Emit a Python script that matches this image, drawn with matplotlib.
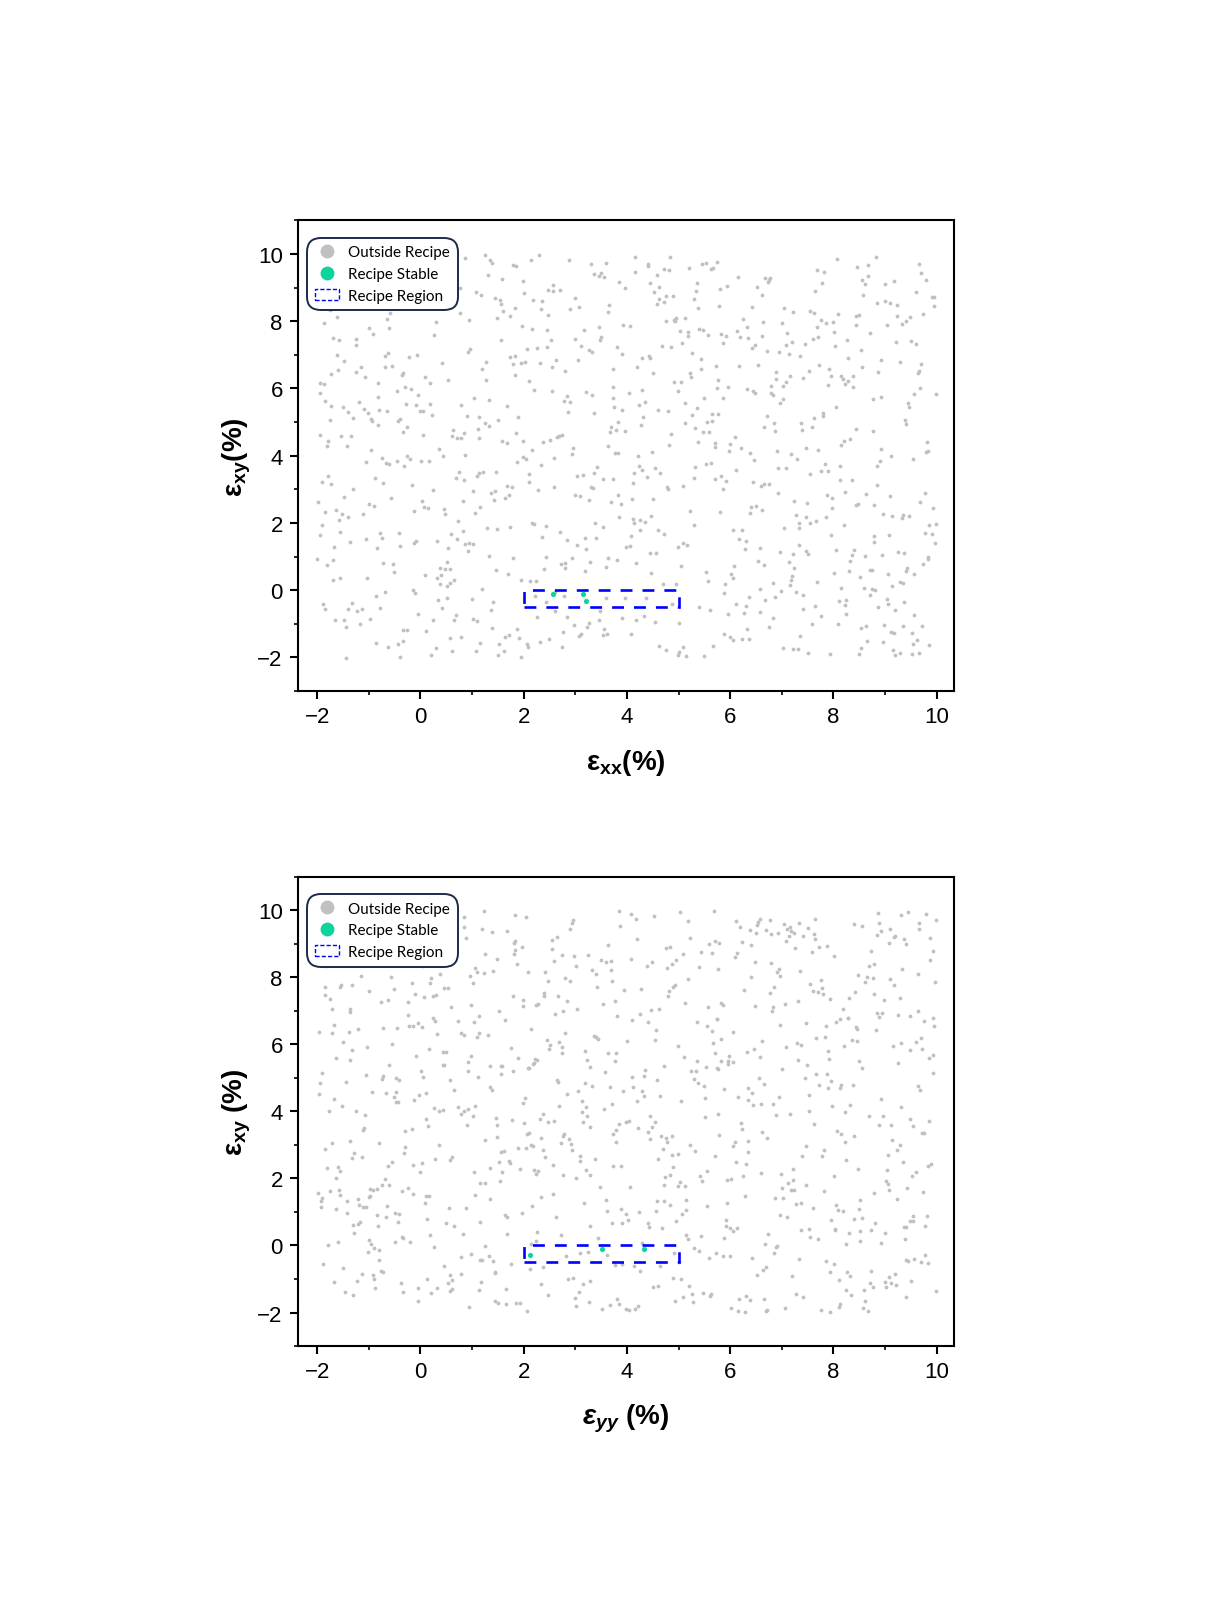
import numpy as np
import matplotlib
matplotlib.use("Agg")
import matplotlib.pyplot as plt
from matplotlib.lines import Line2D
from matplotlib.patches import Rectangle
from matplotlib.ticker import MultipleLocator

# ---- data ----
# top panel: eps_xx vs eps_xy, points outside the recipe
top_gray = [
    (0.86,9.88),(1.26,9.97),(1.35,9.81),(1.38,9.73),(1.30,9.38),(1.58,9.25),(1.79,9.68),(1.86,9.63),
    (1.99,9.21),(2.14,9.83),(2.29,9.97),(2.88,9.81),(3.30,9.70),(3.59,9.73),(3.37,9.41),(3.45,9.36),
    (3.50,9.44),(3.56,9.31),(3.85,9.17),(3.96,8.98),(0.77,9.00),(1.08,8.86),(1.18,8.79),(1.44,8.70),
    (1.55,8.62),(1.57,8.52),(2.01,8.84),(2.18,8.62),(2.36,8.61),(2.56,9.09),(2.48,8.94),(2.57,8.91),
    (2.71,8.94),(3.00,8.68),(3.08,8.42),(2.89,8.36),(3.66,8.49),(3.63,8.29),(2.33,8.37),(1.60,8.32),
    (1.83,8.40),(1.74,8.17),
    (-1.76,8.34),(-1.61,8.14),(-1.87,7.94),(-0.64,8.08),(-0.59,8.25),(-1.00,7.79),(-0.91,7.62),(-0.60,7.80),
    (0.30,7.97),(0.27,7.59),(0.76,8.24),(0.95,8.04),(1.49,8.10),(1.96,7.86),(2.16,7.78),(2.46,7.74),
    (2.47,8.19),(3.16,7.75),(3.45,7.82),(3.50,7.53),(3.48,7.43),(3.92,7.89),(-1.69,7.51),(-1.58,7.43),
    (-1.24,7.46),(-1.25,7.30),(1.56,7.43),(2.06,7.18),(2.25,7.20),(2.45,7.22),(2.53,7.44),(3.00,7.46),
    (3.11,7.26),(3.26,7.14),(3.33,7.08),(3.80,7.23),(3.90,7.03),
    (-1.61,6.99),(-1.48,6.81),(-1.73,6.42),(-1.59,6.56),(-1.16,6.63),(-1.25,6.48),(-1.07,6.33),(-0.68,6.98),
    (-0.63,7.05),(-0.68,6.63),(-0.55,6.66),(-0.23,6.93),(-0.06,7.00),(-0.36,6.41),(-0.33,6.45),(0.08,6.33),
    (0.42,6.75),(0.53,6.25),(0.92,7.08),(0.96,7.16),(1.20,6.58),(1.28,6.78),(1.28,6.25),(1.74,6.93),
    (1.83,6.98),(1.79,6.73),(1.95,6.75),(2.03,6.78),(1.84,6.40),(2.10,6.22),(2.31,6.76),(2.54,6.63),
    (2.63,6.85),(2.81,6.53),(3.05,6.85),(3.73,6.57),(-1.94,6.15),(-1.87,6.13),
    (-1.95,5.88),(-1.85,5.64),(-1.73,5.49),(-1.50,5.44),(-1.41,5.29),(-1.30,5.11),(-1.76,5.05),(-1.19,5.61),
    (-1.09,5.39),(-1.02,5.26),(-0.96,5.08),(-0.93,5.03),(-0.82,4.92),(-0.82,5.76),(-0.83,6.16),(-0.64,5.34),
    (-0.80,5.37),(-0.46,5.92),(-0.30,6.03),(-0.18,5.98),(-0.27,5.53),(-0.09,5.52),(-0.04,5.80),(0.06,5.34),
    (-0.01,5.33),(0.18,5.53),(0.23,5.22),(0.18,6.15),(-0.43,5.04),(-0.40,5.10),(0.78,5.51),(0.90,5.17),
    (1.04,5.72),(1.14,5.14),(1.32,5.66),(1.51,5.06),(1.68,5.49),(1.90,5.16),(2.20,5.96),(2.54,5.94),
    (2.84,5.79),(2.78,5.64),(2.89,5.59),(2.86,5.31),(3.21,5.91),(3.32,5.80),(3.37,5.26),(3.73,6.05),
    (3.73,5.72),(3.75,5.46),(3.90,5.36),(3.82,5.00),
    (-1.95,4.63),(-1.78,4.43),(-1.80,4.30),(-1.53,4.59),(-1.34,4.60),(-1.43,4.30),(-0.33,4.72),(-0.26,4.86),
    (0.06,4.63),(0.64,4.77),(0.62,4.59),(0.71,4.53),(0.79,4.53),(0.85,4.67),(1.12,4.80),(1.14,4.54),
    (1.26,4.97),(1.32,4.89),(1.58,4.45),(1.67,4.37),(1.85,4.69),(1.98,4.45),(2.38,4.40),(2.51,4.48),
    (2.65,4.55),(2.75,4.63),(2.69,4.58),(-0.95,4.17),(-1.05,3.82),(-0.75,3.93),(-0.67,3.77),(-0.60,3.75),
    (-0.46,3.84),(-0.31,3.70),(-0.26,3.99),(-0.20,3.89),(0.01,3.83),(0.17,3.84),(0.36,4.21),(0.44,4.00),
    (0.87,4.03),(1.88,3.80),(1.99,3.95),(2.04,3.89),(2.16,4.18),(2.34,3.72),(2.59,3.94),(2.93,4.05),
    (2.96,4.23),(3.69,4.84),(3.67,4.72),(3.78,4.76),(3.63,4.29),(3.77,4.09),(3.82,4.07),(3.96,4.74),
    (-1.91,3.23),(-1.79,3.40),(-1.73,3.16),(-1.30,3.01),(-0.88,3.35),(-0.72,3.19),(-0.57,2.74),(-1.00,2.56),
    (-0.89,2.50),(-1.48,2.76),(-1.98,2.63),(-1.85,2.33),(-1.64,2.40),(-1.51,2.26),(-1.40,2.18),(-1.57,2.09),
    (-1.11,2.26),(-0.16,3.14),(0.04,2.64),(0.07,2.48),(0.14,2.43),(-0.13,2.36),(0.25,2.98),(0.46,2.42),
    (0.47,2.28),(0.75,3.53),(0.69,3.33),(0.84,3.27),(1.10,3.40),(1.13,3.48),(1.22,3.51),(1.46,3.53),
    (1.01,2.96),(0.83,2.66),(1.16,2.46),(1.06,2.30),(1.36,2.90),(1.44,2.94),(1.42,2.68),(1.67,3.11),
    (1.77,3.06),(1.72,2.84),(1.64,2.74),(2.11,3.45),(2.10,3.22),(2.28,2.98),(2.59,3.06),(3.03,3.40),
    (3.15,3.42),(3.37,3.50),(3.42,3.65),(3.53,3.32),(3.73,3.32),(3.31,3.08),(3.35,3.04),(2.99,2.83),
    (3.10,2.80),(3.26,2.68),(3.69,2.61),(3.88,2.56),(3.82,2.83),
    (-1.90,1.94),(-1.94,1.63),(-1.68,1.29),(-1.55,1.73),(-1.36,1.44),(-0.79,1.70),(-0.74,1.54),(-1.05,1.53),
    (-0.84,1.24),(-0.41,1.70),(-0.39,1.31),(-0.08,1.47),(-0.12,1.41),(0.32,1.47),(0.54,1.25),(0.60,1.67),
    (0.71,1.52),(0.83,1.77),(0.73,2.06),(0.87,1.37),(0.94,1.39),(1.01,1.37),(0.93,1.17),(1.29,1.86),
    (1.48,1.81),(1.74,1.88),(2.17,2.01),(2.20,1.96),(2.43,1.91),(2.36,1.59),(2.71,1.73),(2.84,1.49),
    (3.03,1.34),(3.18,1.54),(3.21,1.22),(3.39,2.01),(3.53,1.88),(3.41,1.55),(3.84,2.18),(-2.01,0.92),
    (-1.81,0.75),(-1.70,0.91),(-0.73,0.82),(-0.54,0.77),(-0.52,0.55),(0.51,0.85),(0.38,0.67),(0.57,0.62),
    (1.33,1.02),(1.47,0.59),(1.80,0.95),(2.43,0.99),(2.39,0.62),(2.73,0.79),(2.80,0.82),(2.81,0.65),
    (2.93,0.95),(3.18,0.57),(3.28,0.83),(3.60,0.69),(3.64,0.95),(3.80,0.89),(3.98,1.27),
    (-1.70,0.29),(-1.55,0.37),(-1.04,0.35),(-0.86,-0.16),(-0.68,-0.06),(0.08,0.45),(-0.14,0.00),(-0.11,-0.07),
    (0.33,0.37),(0.40,0.44),(0.38,0.18),(0.51,0.13),(0.58,0.20),(0.65,0.30),(0.48,0.63),(1.70,0.47),
    (1.94,0.30),(2.12,0.28),(2.24,0.26),(1.20,0.04),(0.99,-0.25),(1.40,-0.35),(0.34,-0.29),(0.52,-0.24),
    (0.42,-0.52),(-1.88,-0.42),(-1.85,-0.55),(-1.41,-0.57),(-1.33,-0.37),(-1.23,-0.62),(-1.14,-0.57),(-0.78,-0.52),
    (2.22,-0.17),(2.43,-0.34),(2.60,-0.06),(2.79,-0.17),(3.60,-0.24),(3.96,-0.22),(1.37,-0.60),(0.69,-0.74),
    (0.65,-0.88),(-0.05,-0.72),(0.24,-0.90),(1.02,-0.87),(1.10,-0.92),(2.26,-0.79),(2.61,-0.62),(2.83,-0.80),
    (3.48,-0.62),(3.46,-0.90),(3.91,-0.82),
    (-1.66,-0.90),(-1.48,-0.90),(-1.44,-1.11),(-1.17,-1.02),(-0.98,-0.85),(-0.34,-1.19),(-0.25,-1.17),(0.10,-1.21),
    (-0.86,-1.56),(-0.63,-1.69),(-0.44,-1.61),(-0.34,-1.51),(-1.45,-2.01),(-0.39,-1.99),(0.20,-1.94),(0.30,-1.73),
    (0.58,-1.41),(0.78,-1.39),(1.16,-1.58),(1.07,-1.81),(1.38,-1.13),(1.53,-1.61),(1.50,-1.93),(1.62,-1.81),
    (1.63,-1.39),(1.72,-1.32),(1.87,-1.15),(1.91,-1.42),(2.06,-1.61),(2.08,-1.68),(1.94,-1.99),(2.31,-1.54),
    (2.49,-1.46),(2.74,-1.69),(2.77,-1.24),(2.98,-1.04),(3.07,-1.36),(3.11,-1.29),(3.23,-1.09),(3.27,-0.97),
    (3.56,-1.16),(3.54,-1.34),(3.62,-1.31),(0.62,-1.80),
    # right half
    (4.15,9.91),(4.83,9.90),(4.15,9.48),(4.40,9.69),(4.41,9.64),(4.59,9.39),(4.72,9.54),(4.81,9.53),
    (4.45,9.15),(4.63,9.03),(4.53,8.87),(4.62,8.65),(4.58,8.52),(4.75,8.75),(4.72,8.57),(4.89,8.75),
    (5.20,9.58),(5.35,9.13),(5.34,8.91),(5.30,8.65),(5.38,8.40),(5.46,9.71),(5.54,9.74),(5.62,9.56),
    (5.67,9.59),(5.74,9.76),(5.80,8.96),(5.94,9.06),(5.79,8.46),(6.16,9.33),(6.52,9.01),(6.62,8.77),
    (6.68,9.29),(6.75,9.23),(6.78,9.28),(6.74,9.18),(6.42,8.41),(7.05,8.38),(7.21,8.27),(7.55,8.32),
    (7.63,8.26),(7.68,9.53),(7.81,9.48),(7.78,9.14),(7.65,8.89),(8.06,9.86),(8.08,8.22),(8.46,9.62),
    (8.67,9.67),(8.66,9.36),(8.56,9.23),(8.61,9.11),(8.58,8.77),(8.83,9.91),(9.00,9.11),(9.17,9.21),
    (8.85,8.54),(8.99,8.61),(9.10,8.55),(9.23,8.48),(9.66,9.70),(9.70,9.43),(9.79,9.23),(9.60,8.88),
    (9.90,8.71),(9.94,8.72),(9.95,8.44),(9.74,8.23),
    (4.06,7.85),(4.76,8.00),(4.91,8.05),(4.96,8.09),(4.94,8.02),(5.12,8.10),(5.03,7.72),(5.19,7.67),
    (5.18,7.55),(5.06,7.35),(5.40,7.76),(5.47,7.75),(5.57,7.59),(5.83,7.62),(5.92,7.57),(5.86,7.35),
    (6.13,7.70),(6.25,8.07),(6.33,7.82),(6.19,7.52),(6.35,7.50),(6.43,7.19),(6.49,7.29),(6.61,7.57),
    (6.63,7.99),(6.72,7.13),(6.94,7.10),(7.00,7.94),(7.11,7.65),(7.09,7.28),(7.19,7.38),(7.13,7.03),
    (7.36,6.98),(7.44,7.31),(7.60,7.47),(7.70,7.52),(7.69,7.84),(7.76,8.04),(7.86,7.95),(7.99,7.97),
    (8.02,7.67),(8.03,7.25),(8.27,7.45),(8.29,6.91),(8.53,7.15),(8.44,8.17),(8.50,8.18),(8.44,7.89),
    (8.71,7.64),(9.03,7.88),(9.23,8.16),(9.32,7.91),(9.41,8.02),(9.48,8.13),(9.21,7.37),(9.50,7.41),
    (9.59,7.33),(4.67,7.25),(4.85,7.23),(4.42,6.98),(4.44,6.92),(4.30,6.90),(5.27,7.05),(5.43,6.89),
    (4.20,6.65),(4.51,6.46),(5.23,6.45),(5.25,6.33),(5.43,6.59),(5.72,6.68),(6.18,6.67),(6.54,6.69),
    (6.88,6.48),(6.89,6.28),(7.15,6.36),(7.09,6.18),(7.02,6.08),(6.80,6.07),(6.80,5.86),(6.82,5.82),
    (6.97,5.56),(7.02,5.68),(6.48,5.87),(6.44,5.94),(6.32,5.99),(5.86,5.72),(5.95,6.03),(5.75,6.01),
    (5.77,6.26),(5.50,5.72),(5.13,5.56),(4.92,6.18),(4.99,5.93),(5.05,6.20),(4.29,5.96),(4.04,5.87),
    (4.24,5.51),(4.36,5.59),(4.61,5.36),(4.80,5.32),(7.53,6.53),(7.42,6.30),(7.72,6.71),(7.91,6.58),
    (7.95,6.36),(7.89,6.10),(8.15,6.38),(8.18,6.27),(8.29,6.21),(8.22,6.13),(8.38,6.38),(8.38,6.03),
    (8.56,6.63),(8.87,6.49),(8.92,6.86),(9.29,6.80),(9.70,6.73),(9.66,6.53),(9.64,6.45),(9.68,6.02),
    (9.57,5.84),(9.99,5.84),(8.92,5.76),(8.76,5.68),(9.44,5.57),(9.46,5.44),(8.05,5.44),
    (4.32,5.15),(4.27,4.90),(4.85,4.65),(4.82,4.33),(5.12,4.97),(5.26,5.21),(5.36,5.41),(5.32,4.81),
    (5.48,4.71),(5.59,4.70),(5.56,4.99),(5.65,5.04),(5.64,5.24),(5.76,5.25),(5.38,4.41),(5.71,4.38),
    (5.70,4.25),(6.00,4.35),(6.09,4.55),(5.97,4.13),(6.21,4.22),(6.39,4.07),(6.47,3.88),(6.71,5.19),
    (6.65,4.84),(6.84,4.96),(6.86,4.74),(6.90,4.15),(7.17,4.04),(7.30,3.90),(7.38,4.97),(7.39,4.77),
    (7.58,4.85),(7.62,5.13),(7.79,5.28),(7.80,5.19),(7.46,4.24),(7.71,4.17),(8.15,4.33),(8.20,4.44),
    (8.32,4.51),(8.43,4.79),(8.76,4.75),(8.92,4.21),(9.12,3.99),(8.91,3.85),(8.84,3.70),(9.39,5.07),
    (9.41,4.94),(9.81,4.42),(9.83,4.14),(9.79,4.10),(9.54,3.91),(4.49,4.12),
    (4.21,4.00),(4.24,3.69),(4.30,3.58),(4.38,3.36),(4.14,3.50),(4.11,3.20),(4.54,3.63),(4.65,3.49),
    (4.78,3.06),(4.80,3.00),(5.08,3.09),(5.32,3.65),(5.53,3.74),(5.63,3.77),(5.30,3.34),(5.70,3.30),
    (5.83,3.39),(5.92,3.26),(5.86,3.01),(6.12,3.57),(6.45,3.22),(6.59,3.11),(6.66,3.15),(6.75,3.17),
    (6.92,3.62),(7.08,3.64),(6.92,2.90),(7.54,3.46),(7.75,3.55),(7.84,3.74),(7.90,3.56),(8.13,3.68),
    (8.12,3.28),(8.36,3.28),(8.23,2.92),(7.87,2.84),(7.98,2.74),(7.24,2.65),(7.49,2.58),(7.97,2.45),
    (8.43,2.52),(8.47,2.57),(8.63,2.87),(8.78,2.54),(8.85,3.13),(9.10,2.80),(9.77,2.89),(9.68,2.62),
    (9.92,2.44),(4.09,2.72),(4.51,2.70),(5.23,2.36),(5.81,2.34),(6.41,2.46),(6.50,2.50),(6.61,2.38),
    (6.39,2.31),
    (4.12,2.13),(4.14,2.00),(4.25,2.09),(4.35,2.04),(4.46,2.21),(4.26,1.78),(4.60,1.79),(4.71,1.68),
    (4.07,1.62),(4.06,1.30),(4.44,1.11),(4.56,1.12),(4.98,1.27),(5.09,1.39),(5.16,1.33),(5.29,1.93),
    (6.05,1.80),(6.23,1.80),(6.17,1.52),(6.30,1.47),(6.28,1.22),(6.57,1.25),(6.96,1.15),(7.04,1.86),
    (7.28,2.24),(7.33,2.00),(7.34,1.84),(7.47,2.18),(7.54,2.01),(7.67,2.07),(7.85,2.18),(7.33,1.35),
    (7.46,1.17),(7.51,1.07),(7.22,1.07),(7.96,1.63),(8.05,1.21),(8.20,1.93),(8.40,1.20),(8.36,1.06),
    (8.79,1.61),(8.79,1.43),(8.96,2.27),(9.14,2.20),(9.33,2.14),(9.35,2.23),(9.47,2.21),(9.07,1.64),
    (8.94,1.06),(9.25,1.14),(9.37,1.12),(9.77,1.70),(9.90,1.68),(9.86,1.95),(9.98,1.97),(9.97,1.39),
    (4.17,0.81),(4.47,0.51),(5.04,0.71),(5.54,0.53),(5.57,0.27),(6.02,0.47),(6.06,0.37),(6.08,0.71),
    (6.53,0.88),(6.66,0.74),(7.13,0.84),(7.24,0.67),(7.20,0.43),(7.18,0.31),(7.15,0.14),(7.27,-0.04),
    (7.41,-0.14),(6.99,-0.02),(6.82,0.21),(6.58,0.03),(5.90,0.18),(5.89,-0.08),(6.36,-0.20),(6.12,-0.40),
    (6.31,-0.47),(6.68,-0.30),(6.86,-0.20),(7.68,0.24),(8.01,0.52),(8.14,0.06),(8.32,0.87),(8.31,0.56),
    (8.51,0.39),(8.61,1.01),(8.70,0.59),(8.75,0.59),(8.59,0.06),(8.74,0.04),(8.81,0.02),(8.70,-0.14),
    (9.06,0.47),(9.14,0.13),(9.28,0.25),(9.34,0.22),(9.41,0.57),(9.43,0.67),(9.56,0.49),(9.74,0.79),
    (9.84,1.00),(9.84,0.94),(8.10,-0.32),(8.25,-0.30),(8.22,-0.44),(9.03,-0.26),(9.05,-0.42),(9.37,-0.35),
    (4.37,-0.23),(4.69,0.18),(4.96,0.19),(4.87,-0.42),
    (5.40,-0.50),(5.61,-0.59),(5.96,-0.71),(6.26,-0.68),(6.57,-0.64),(6.83,-0.83),(7.42,-0.55),(7.64,-0.47),
    (7.76,-0.77),(7.58,-1.00),(8.09,-1.02),(8.25,-0.70),(8.87,-0.50),(9.20,-0.60),(9.56,-0.73),(4.18,-0.88),
    (4.33,-0.78),(4.54,-0.95),(5.00,-0.97),(4.07,-1.31),(4.63,-1.65),(4.76,-1.77),(5.00,-1.84),(4.98,-1.94),
    (5.08,-1.68),(5.15,-1.96),(5.50,-1.96),(5.67,-1.65),(5.88,-1.29),(5.99,-1.40),(6.06,-1.48),(6.22,-1.45),
    (6.32,-1.16),(6.37,-1.44),(6.76,-1.10),(7.03,-1.71),(7.21,-1.75),(7.31,-1.74),(7.36,-1.36),(7.50,-1.86),
    (7.94,-1.90),(8.50,-1.91),(8.54,-1.72),(8.65,-1.52),(8.54,-1.12),(8.63,-1.07),(8.96,-1.55),(8.98,-1.05),
    (9.11,-1.24),(9.17,-1.26),(9.34,-1.06),(9.52,-1.27),(9.54,-1.61),(9.62,-1.48),(9.72,-1.06),(9.85,-1.64),
    (9.65,-1.87),(9.52,-1.89),(9.28,-1.86),(9.19,-1.93),(9.16,-1.77),
]
top_green = [(2.57,-0.10),(3.14,-0.11),(3.21,-0.31)]

# bottom panel: eps_yy vs eps_xy
bot_gray = [
    (0.84,9.79),(0.84,9.51),(0.89,9.16),(1.23,9.97),(1.20,9.45),(1.38,9.36),(1.68,9.39),(1.84,9.85),
    (2.04,9.79),(1.84,9.09),(1.82,9.01),(1.97,8.89),(1.83,8.80),(1.81,8.68),(1.88,8.38),(1.26,8.69),
    (1.49,8.55),(2.54,9.11),(2.64,9.21),(2.54,8.84),(2.75,8.65),(2.97,8.62),(3.24,8.66),(2.90,9.44),
    (2.93,9.61),(2.95,9.71),(3.84,9.97),(3.87,9.53),(3.63,8.96),(3.50,8.52),(3.59,8.45),(3.69,8.47),
    (3.70,8.20),(3.32,8.20),(3.40,8.10),(3.01,8.32),(2.58,8.47),(2.41,8.14),(2.09,8.15),(1.06,8.27),
    (1.10,8.15),(1.23,8.12),(1.40,8.17),(0.96,8.04),(1.01,7.82),
    (-1.82,8.32),(-1.16,8.04),(-0.57,8.01),(-0.29,8.37),(0.05,8.32),(0.38,8.11),(0.21,7.99),(0.18,7.84),
    (-1.84,7.72),(-1.85,7.47),(-1.75,7.36),(-1.53,7.77),(-1.56,7.72),(-1.32,7.77),(-1.00,7.59),(-0.51,7.64),
    (-0.17,7.84),(-0.10,7.51),(0.07,7.40),(0.25,7.45),(0.30,7.48),(0.46,7.67),(0.53,7.67),(-1.71,7.05),
    (-1.37,7.05),(-1.37,6.95),(-0.77,7.25),(-0.63,7.31),(-0.24,7.25),(0.60,7.11),(0.98,7.18),(1.13,6.85),
    (1.52,7.00),(1.63,6.71),(1.79,7.45),(1.98,7.15),(1.99,7.33),(2.23,7.18),(2.27,7.21),(2.39,7.45),
    (2.40,7.52),(2.48,7.89),(2.81,7.97),(2.90,7.89),(2.66,7.45),(2.83,7.30),(2.60,6.90),(2.77,7.00),
    (3.04,7.04),(3.42,7.70),(3.71,7.90),(3.53,7.20),(3.77,7.28),(3.94,7.62),(3.80,6.83),
    (-1.96,6.36),(-1.67,6.58),(-1.71,6.33),(-1.39,6.38),(-1.20,6.45),(-1.50,6.08),(-1.32,5.84),(-1.03,5.93),
    (-1.64,5.59),(-1.37,5.54),(-0.72,6.48),(-0.45,6.48),(-0.55,6.01),(-0.24,6.88),(-0.22,6.53),(-0.15,6.53),
    (-0.04,6.62),(0.04,6.50),(-0.09,5.66),(0.16,5.86),(0.25,6.78),(0.28,6.68),(0.33,6.31),(0.72,6.70),
    (0.78,6.35),(0.85,6.28),(1.13,6.33),(1.10,6.23),(1.31,6.27),(1.03,6.66),(0.44,5.76),(0.49,5.78),
    (0.44,5.39),(0.92,5.46),(0.98,5.64),(1.34,5.36),(1.57,5.36),(1.75,5.89),(1.90,5.59),(2.14,6.45),
    (2.22,5.56),(2.18,5.42),(2.11,5.29),(2.45,6.13),(2.51,5.99),(2.50,5.86),(2.69,6.06),(2.75,5.92),
    (2.74,5.74),(2.80,6.33),(3.19,5.79),(3.22,5.54),(3.28,5.32),(3.64,5.74),(3.78,5.74),(3.41,6.21),
    (3.44,6.15),(3.37,6.25),(3.77,5.49),
    (-1.91,5.14),(-1.94,4.84),(-1.96,4.53),(-1.68,4.37),(-1.52,4.15),(-1.77,4.00),(-1.44,4.86),(-1.05,5.08),
    (-0.73,5.04),(-0.75,4.96),(-0.93,4.57),(-0.66,4.55),(-0.60,5.37),(-0.47,4.98),(-0.41,4.92),(-0.48,4.58),
    (-0.52,4.42),(-0.47,4.27),(-0.43,4.27),(-0.13,4.35),(-0.02,4.48),(0.10,4.55),(0.01,5.21),(0.05,5.01),
    (0.45,5.39),(0.58,4.92),(0.66,4.64),(0.26,4.10),(0.37,4.02),(0.43,4.05),(0.73,4.12),(0.78,3.93),
    (0.84,4.00),(0.93,4.08),(1.06,4.15),(1.01,3.85),(0.90,3.58),(0.92,5.21),(1.11,5.02),(1.34,4.74),
    (1.39,4.64),(1.58,5.34),(1.57,5.12),(1.80,5.19),(2.02,4.40),(1.99,4.25),(2.09,5.29),(2.20,5.44),
    (2.25,5.54),(2.64,4.94),(2.67,4.87),(2.84,4.52),(2.69,4.17),(3.05,4.60),(3.18,4.84),(3.32,4.76),
    (3.57,5.16),(3.68,4.72),(3.13,4.30),(3.20,4.13),(3.72,4.21),(3.56,4.08),(3.92,4.62),
    (-1.25,4.02),(-1.08,3.90),(-1.09,3.50),(-1.12,3.43),(0.10,3.78),(0.14,3.55),(1.47,3.80),(1.48,3.60),
    (1.77,3.75),(2.01,3.65),(2.38,3.93),(2.31,3.78),(2.48,3.67),(2.59,3.72),(3.13,3.98),(3.22,3.85),
    (3.14,3.67),(3.28,3.53),(3.74,3.32),(3.78,3.45),(3.84,3.62),(3.98,3.68),(-0.81,3.05),(-1.36,3.13),
    (-1.72,3.05),(-1.85,2.89),(-1.28,2.76),(-1.32,2.61),(-1.14,2.63),(-0.29,3.41),(-0.16,3.48),(-0.29,2.94),
    (-0.32,2.76),(0.37,2.99),(0.29,2.58),(0.62,2.65),(0.57,2.54),(1.26,3.14),(1.49,3.23),(1.56,2.78),
    (1.62,2.81),(1.90,2.91),(2.05,2.90),(2.15,3.01),(2.18,2.96),(2.06,3.32),(2.11,3.35),(2.33,3.19),
    (2.38,2.84),(2.41,2.63),(2.72,3.06),(2.79,3.32),(2.77,3.25),(2.88,3.18),(2.91,3.03),(2.94,2.84),
    (3.09,2.66),(3.10,2.53),(3.39,2.57),(3.78,3.08),(3.73,2.38),(3.89,2.37),
    (-1.80,2.31),(-1.60,2.33),(-1.55,2.21),(-1.63,2.01),(-0.55,2.48),(-0.63,2.38),(-0.15,2.41),(0.04,2.46),
    (0.00,2.18),(-0.69,1.98),(-0.60,1.81),(-0.97,1.69),(-0.85,1.67),(-0.91,1.65),(-0.75,1.81),(-1.98,1.57),
    (-1.91,1.42),(-1.92,1.32),(-1.92,1.15),(-1.76,1.62),(-1.57,1.65),(-1.56,1.50),(-1.42,1.32),(-1.21,1.39),
    (-1.19,1.22),(-1.11,1.15),(-1.05,1.15),(-1.64,1.09),(-1.43,0.97),(-0.84,0.92),(-0.65,1.19),(-0.66,0.85),
    (-0.41,0.95),(-0.43,0.70),(-0.50,0.97),(-0.99,1.44),(-0.97,1.49),(-0.36,1.62),(-0.24,1.72),(-0.15,1.52),
    (0.10,1.47),(0.16,1.49),(0.09,1.27),(0.56,1.13),(0.88,1.12),(1.05,1.50),(1.15,1.86),(1.26,1.85),
    (1.35,1.39),(1.04,2.20),(1.34,2.31),(1.55,1.91),(1.59,2.18),(1.74,2.46),(1.52,2.49),(1.72,2.52),
    (1.93,2.28),(2.20,2.26),(2.23,2.13),(2.28,2.23),(2.56,2.40),(2.76,2.09),(3.02,2.01),(3.20,2.26),
    (3.29,2.11),(2.34,1.44),(2.57,1.54),(3.48,1.74),(3.59,1.35),(3.16,1.27),(3.62,1.02),(3.88,1.09),
    (2.16,1.17),(1.97,0.97),(1.63,0.90),(1.68,0.85),(2.62,0.85),(1.16,0.69),
    (-1.31,0.62),(-1.20,0.65),(-1.17,0.71),(-1.29,0.37),(-0.82,0.59),(0.50,0.67),(0.66,0.59),(0.12,0.79),
    (-0.36,0.25),(-0.34,0.22),(-0.21,0.11),(-0.50,0.11),(0.19,0.30),(0.26,-0.04),(0.83,0.33),(1.67,0.33),
    (2.25,0.39),(2.73,0.32),(3.29,0.57),(3.44,0.23),(3.72,0.67),(3.91,0.66),(3.98,0.95),(-1.79,0.02),
    (-1.60,0.10),(-1.00,0.15),(-1.01,-0.19),(-0.96,0.03),(-0.90,-0.07),(-0.80,-0.14),(-0.80,-0.42),(-1.89,-0.56),
    (-1.50,-0.68),(0.78,-0.33),(0.46,-0.60),(0.98,-0.24),(1.26,-0.02),(1.15,-0.42),(1.20,-0.44),(1.33,-0.32),
    (1.40,-0.45),(1.76,-0.54),(2.23,0.12),(2.15,0.05),(2.37,-0.65),(2.82,-0.32),(3.10,-0.22),(3.24,-0.20),
    (3.62,-0.27),(3.91,-0.55),(3.77,-0.58),
    (-1.14,-0.84),(-0.91,-0.87),(-0.90,-1.00),(-0.77,-0.75),(-0.73,-0.80),(-1.68,-1.09),(-1.23,-1.06),(-0.87,-1.26),
    (-1.46,-1.39),(-1.30,-1.49),(-0.38,-1.13),(-0.34,-1.38),(-0.04,-1.27),(0.12,-0.99),(0.21,-1.41),(0.33,-1.28),
    (0.57,-0.89),(0.62,-1.03),(0.53,-1.13),(0.58,-1.35),(0.62,-1.29),(0.78,-0.86),(1.13,-1.32),(1.18,-1.08),
    (1.44,-0.79),(1.45,-0.83),(1.65,-1.31),(1.45,-1.67),(1.51,-1.71),(1.65,-1.76),(1.86,-1.71),(1.92,-1.73),
    (2.06,-1.96),(0.94,-1.83),(-0.05,-1.66),(2.13,-0.70),(2.34,-1.14),(2.47,-1.47),(2.86,-1.00),(2.95,-0.97),
    (3.14,-1.16),(3.28,-1.05),(3.07,-1.39),(3.00,-1.58),(3.26,-1.68),(3.02,-1.80),(3.51,-1.89),(3.67,-1.79),
    (3.80,-1.61),(3.85,-1.74),(3.98,-1.89),
    # right half
    (4.08,9.88),(4.17,9.73),(4.52,9.83),(5.02,9.93),(5.18,9.68),(5.68,9.98),(4.20,9.15),(5.22,9.16),
    (4.76,8.87),(4.84,8.89),(5.08,8.70),(4.96,8.50),(4.87,8.40),(4.77,8.27),(4.48,8.44),(4.38,8.34),
    (4.08,8.54),(5.43,8.76),(5.59,8.98),(5.71,9.08),(5.79,9.01),(5.65,8.71),(5.39,8.29),(5.76,8.23),
    (6.11,9.68),(6.19,9.49),(6.22,9.04),(6.41,8.95),(6.09,8.59),(6.14,8.73),(6.38,9.41),(6.50,9.31),
    (6.53,9.64),(6.57,9.73),(6.52,9.56),(6.69,9.41),(6.78,9.70),(6.79,9.29),(6.92,9.31),(7.04,9.58),
    (7.11,9.44),(7.15,9.51),(7.18,9.38),(7.23,9.33),(7.14,9.23),(7.08,9.08),(7.26,8.87),(7.34,9.63),
    (7.42,9.24),(7.50,9.48),(7.63,9.29),(7.65,9.74),(7.65,9.13),(7.72,8.90),(7.87,8.93),(7.58,8.74),
    (8.01,8.64),(6.48,8.46),(6.79,8.42),(6.90,8.14),(6.94,8.24),(6.96,8.04),(7.35,8.17),(8.40,9.58),
    (8.56,9.54),(8.87,9.91),(8.89,9.61),(8.92,9.38),(8.84,9.25),(8.73,8.77),(8.79,8.40),(8.69,8.34),
    (9.10,9.45),(9.19,9.23),(9.17,9.20),(9.36,9.15),(9.40,9.00),(9.07,9.01),(9.31,9.85),(9.44,9.94),
    (9.80,9.89),(9.98,9.70),(9.66,9.61),(9.65,9.43),(9.88,9.18),(9.92,8.79),(9.88,8.51),(9.32,8.25),
    (9.63,8.09),(8.47,8.07),(8.61,7.87),(8.65,8.00),(8.76,7.98),(9.09,7.95),(9.17,7.77),(9.97,7.87),
    (4.27,7.66),(4.79,7.45),(4.81,7.60),(4.89,7.72),(4.93,7.77),(5.18,7.96),(6.26,7.62),(6.41,8.02),
    (6.84,7.71),(6.77,7.53),(6.81,6.99),(6.82,7.12),(6.48,7.15),(7.07,7.21),(7.31,7.28),(7.55,7.80),
    (7.60,7.58),(7.71,7.56),(7.80,7.51),(7.78,7.67),(7.76,7.92),(7.94,7.34),(8.18,7.06),(8.29,6.79),
    (8.42,7.55),(8.31,7.37),(8.78,7.49),(8.98,7.31),(9.28,7.37),(4.09,6.71),(4.25,6.91),(4.40,6.66),
    (4.46,7.01),(4.63,7.04),(5.12,7.24),(5.58,7.10),(5.83,7.23),(5.86,7.18),(5.74,6.76),(8.85,6.93),
    (8.94,6.94),(8.88,6.81),(9.25,6.86),(9.48,6.85),(9.63,6.98),(9.75,6.68),(9.93,6.78),(9.95,6.55),
    (4.57,6.43),(4.54,6.13),(4.01,6.11),(4.99,5.96),(5.10,5.62),(5.36,6.65),(5.56,6.54),(5.65,6.40),
    (5.75,6.75),(6.05,6.38),(5.83,6.15),(5.67,6.03),(5.70,5.74),(5.54,5.32),(5.36,5.51),(5.25,5.20),
    (5.34,5.20),(5.29,4.96),(5.38,4.85),(5.50,4.76),(4.71,5.36),(4.35,5.22),(4.33,5.06),(4.58,4.94),
    (4.09,5.01),(4.11,4.73),(4.29,4.60),(4.33,4.47),(4.20,4.32),(4.65,4.45),(5.83,5.49),(5.97,5.64),
    (5.96,5.51),(5.95,5.41),(6.05,5.47),(5.74,5.28),(5.77,5.26),(6.33,5.76),(6.46,5.86),(6.57,5.62),
    (6.62,6.09),(6.97,6.56),(7.08,5.91),(7.29,6.05),(7.38,5.97),(7.32,5.54),(7.49,5.38),(7.01,5.26),
    (7.47,6.63),(7.67,6.18),(7.83,6.23),(7.86,6.53),(7.89,5.81),(7.91,5.57),(8.05,6.67),(8.13,6.75),
    (8.29,6.79),(8.20,5.94),(8.36,6.13),(8.45,6.11),(8.43,6.51),(8.46,6.45),(8.49,5.49),(8.56,5.30),
    (8.82,6.42),(9.16,5.96),(9.31,6.05),(9.26,5.44),(9.49,5.83),(9.59,6.06),(9.70,6.19),(9.72,5.87),
    (9.85,5.59),(9.92,5.67),(9.93,5.15),(9.64,4.76),(9.68,4.63),
    (7.44,4.98),(7.67,5.11),(7.87,5.11),(7.73,4.80),(7.96,4.91),(7.89,4.71),(8.14,4.79),(8.13,4.71),
    (8.38,4.79),(7.52,4.50),(7.98,4.15),(8.22,3.98),(8.32,4.19),(6.55,4.99),(6.66,4.82),(6.34,4.69),
    (6.43,4.54),(6.35,4.33),(6.45,4.19),(6.59,4.22),(6.82,4.23),(6.95,4.42),(6.88,3.90),(7.15,3.93),
    (7.53,4.02),(5.89,4.66),(6.16,4.43),(5.52,4.40),(5.05,4.31),(5.51,3.83),(5.76,3.92),(4.04,3.70),
    (4.22,3.50),(4.44,3.87),(4.55,3.68),(4.49,3.53),(4.41,3.37),(4.45,3.17),(4.66,3.25),(4.75,3.21),
    (4.87,3.25),(4.77,3.09),(4.70,2.89),(4.60,2.58),(4.87,2.71),(4.99,2.73),(4.89,2.34),(8.92,4.38),
    (9.30,4.13),(8.69,3.85),(8.89,3.59),(8.96,3.87),(9.12,3.60),(9.48,3.78),(9.55,3.55),(9.85,3.72),
    (9.71,3.34),(9.76,3.34),
    (6.21,3.65),(6.23,3.48),(5.79,3.28),(5.23,2.99),(5.32,2.83),(5.70,2.66),(6.09,3.09),(6.05,2.96),
    (6.35,3.12),(6.35,2.78),(6.12,2.49),(6.30,2.44),(6.61,3.38),(6.72,3.20),(7.62,3.63),(7.46,2.97),
    (7.40,2.68),(7.82,2.86),(7.78,2.68),(8.07,3.41),(8.15,3.31),(8.22,3.10),(8.39,3.26),(8.25,2.55),
    (8.47,2.29),(9.14,3.16),(9.28,3.01),(9.23,2.86),(9.05,2.70),(9.34,2.48),(9.03,2.26),(9.59,2.19),
    (9.53,2.06),(9.83,2.36),(9.89,2.42),(8.02,2.07),(7.82,1.63),(7.46,1.79),(7.22,2.28),(6.99,2.14),
    (7.12,1.86),(7.21,1.96),(7.00,1.72),(7.18,1.65),(7.24,1.65),(6.59,2.17),(6.25,2.08),(5.93,1.96),
    (6.02,1.98),(5.56,2.21),(5.42,2.06),(5.46,1.92),(4.83,2.11),(4.74,2.03),(5.02,1.90),(4.98,1.78),
    (5.12,1.77),(4.72,1.80),(4.06,1.75),(4.24,1.00),(4.58,1.34),(4.71,1.32),(4.56,1.03),(4.84,1.22),
    (5.14,1.35),(5.15,1.05),(5.07,0.94),(4.96,0.72),(5.55,1.17),(5.94,1.26),(6.28,1.47),(6.87,1.43),
    (7.03,1.41),(6.97,0.90),(7.11,0.84),(7.28,1.25),(7.38,1.27),(7.60,1.11),(8.05,1.20),(8.09,1.05),
    (8.18,1.02),(8.51,1.37),(8.50,1.09),(8.79,1.55),(9.07,1.65),(9.01,1.91),(9.06,1.83),(9.43,1.72),
    (9.23,1.39),(9.74,1.60),(8.40,0.80),(8.56,0.82),(7.96,0.75),(8.04,0.48),(8.31,0.38),(8.52,0.42),
    (8.72,0.47),(8.81,0.67),(9.00,0.38),(9.55,0.87),(9.48,0.72),(9.54,0.72),(9.41,0.56),(9.36,0.55),
    (9.78,0.57),(9.81,0.89),(9.39,0.18),
    (4.03,0.77),(4.40,0.67),(4.43,0.54),(4.68,0.53),(5.15,0.30),(5.19,0.18),(5.44,0.28),(5.29,-0.07),
    (5.39,-0.16),(5.59,-0.36),(5.72,-0.22),(5.86,-0.30),(5.99,-0.30),(5.92,0.77),(5.91,0.59),(6.00,0.52),
    (6.06,0.44),(6.13,0.52),(5.88,0.23),(6.42,-0.37),(6.67,0.05),(6.74,0.34),(6.85,-0.21),(6.89,-0.05),
    (6.91,-0.02),(7.33,-0.39),(7.37,0.45),(7.53,0.50),(7.55,0.26),(7.70,0.20),(8.04,0.46),(8.25,0.04),
    (8.52,0.14),(8.92,0.06),(9.41,-0.42),(9.45,-0.45),(9.56,-0.40),(9.69,-0.49),(9.77,-0.27),(9.83,-0.51),
    (4.29,0.08),(4.92,-0.23),(5.00,-0.50),(4.14,-0.60),(4.25,-0.75),(4.65,-0.62),
    (4.89,-0.96),(5.05,-1.01),(5.20,-1.22),(5.26,-1.44),(5.28,-1.69),(5.48,-1.42),(5.63,-1.46),(5.61,-1.51),
    (4.94,-1.65),(5.08,-1.55),(4.50,-1.23),(4.61,-1.20),(4.04,-1.91),(4.16,-1.88),(4.22,-1.81),(6.02,-1.87),
    (6.16,-1.95),(6.28,-1.99),(6.17,-1.59),(6.30,-1.51),(6.39,-1.63),(6.65,-1.59),(6.52,-0.88),(6.63,-0.73),
    (6.70,-0.63),(6.70,-1.94),(6.71,-1.91),(7.06,-1.87),(7.20,-0.92),(7.27,-1.44),(7.41,-1.54),(7.75,-1.92),
    (7.94,-1.97),(8.10,-1.84),(8.13,-1.76),(7.85,-0.45),(8.01,-0.54),(7.93,-0.80),(8.11,-1.04),(8.27,-0.78),
    (8.33,-0.90),(8.24,-1.34),(8.34,-1.47),(8.60,-1.33),(8.61,-1.67),(8.58,-1.85),(8.67,-1.94),(8.72,-0.77),
    (8.70,-1.12),(8.76,-1.24),(8.99,-1.10),(9.02,-1.25),(9.08,-0.94),(9.12,-1.13),(9.20,-0.85),(9.21,-1.17),
    (9.50,-1.06),(9.41,-1.55),(9.99,-1.37),
]
bot_green = [(2.13,-0.28),(3.52,-0.11),(4.33,-0.10)]

recipe_x = (2.0, 5.0)
recipe_y = (-0.5, 0.0)

panels = [
    dict(gray=top_gray, green=top_green,
         xlabel=r"ε$_{\mathbf{xx}}$(%)", ylabel=r"ε$_{\mathbf{xy}}$(%)"),
    dict(gray=bot_gray, green=bot_green,
         xlabel=r"$\mathit{\varepsilon_{yy}}$ (%)", ylabel=r"ε$_{\mathbf{xy}}$ (%)"),
]

plt.rcParams["font.family"] = ["Liberation Sans", "DejaVu Sans"]
plt.rcParams["mathtext.fontset"] = "custom"
plt.rcParams["mathtext.rm"] = "Liberation Sans"
plt.rcParams["mathtext.bf"] = "Liberation Sans:bold"
plt.rcParams["mathtext.it"] = "Liberation Sans:bold:italic"

GRAY = "#c0c0c0"
GREEN = "#0fd39c"
BLUE = "#0000ff"

fig = plt.figure(figsize=(12.12, 16.15), dpi=100)
rects = [[0.2459, 0.5715, 0.541, 0.2914], [0.2459, 0.1659, 0.541, 0.2907]]

for rect, p in zip(rects, panels):
    ax = fig.add_axes(rect)
    g = np.array(p["gray"])
    gr = np.array(p["green"])
    ax.scatter(g[:, 0], g[:, 1], s=7.5, color=GRAY, linewidths=0, zorder=2)
    ax.scatter(gr[:, 0], gr[:, 1], s=14, color=GREEN, linewidths=0, zorder=4)
    ax.add_patch(Rectangle((recipe_x[0], recipe_y[0]), recipe_x[1] - recipe_x[0],
                           recipe_y[1] - recipe_y[0], fill=False, edgecolor=BLUE,
                           lw=1.9, linestyle=(0, (4.5, 3.8)), zorder=3))
    ax.set_xlim(-2.37, 10.33)
    ax.set_ylim(-3, 11)
    ax.xaxis.set_major_locator(MultipleLocator(2))
    ax.xaxis.set_minor_locator(MultipleLocator(1))
    ax.yaxis.set_major_locator(MultipleLocator(2))
    ax.yaxis.set_minor_locator(MultipleLocator(1))
    ax.tick_params(which="major", direction="out", length=6, width=1.5, labelsize=16, pad=5)
    ax.tick_params(which="minor", direction="out", length=3, width=1.2)
    for s in ax.spines.values():
        s.set_linewidth(1.5)
    ax.set_xlabel(p["xlabel"], fontsize=20, fontweight="bold", labelpad=14)
    ax.set_ylabel(p["ylabel"], fontsize=20, fontweight="bold", labelpad=3)

    handles = [
        Line2D([], [], ls="none", marker="o", ms=10, color=GRAY, mec="none"),
        Line2D([], [], ls="none", marker="o", ms=10, color=GREEN, mec="none"),
        Rectangle((0, 0), 1, 1, fill=False, edgecolor=BLUE, lw=1.0, linestyle=(0, (3, 1.5))),
    ]
    leg = ax.legend(handles, ["Outside Recipe", "Recipe Stable", "Recipe Region"],
                    loc="upper left", bbox_to_anchor=(0.014, 0.963), borderaxespad=0,
                    prop={"family": "Lato", "size": 11}, fancybox=True, framealpha=1,
                    handlelength=1.6, handletextpad=0.6, labelspacing=0.5,
                    borderpad=0.5)
    fr = leg.get_frame()
    fr.set_edgecolor("#1c2a4a")
    fr.set_linewidth(1.4)
    fr.set_boxstyle("round,pad=0,rounding_size=0.9")

fig.savefig("out.png", dpi=100, facecolor="white")
